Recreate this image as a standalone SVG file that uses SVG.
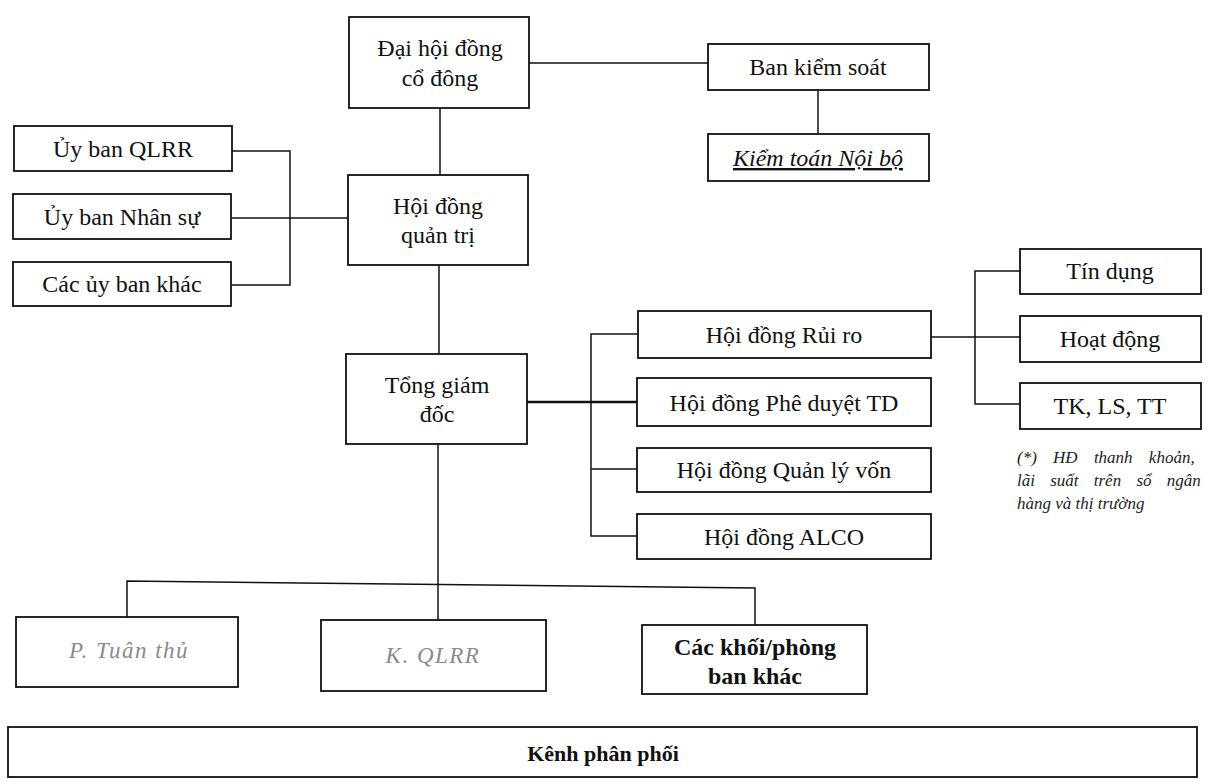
<svg xmlns="http://www.w3.org/2000/svg" width="1208" height="782" viewBox="0 0 1208 782">
<style>
.box{fill:#fff;stroke:#111;stroke-width:1.8}
.t{font-family:"Liberation Serif","Times New Roman",serif;font-size:24px;fill:#111;text-anchor:middle}
.b{font-weight:bold}
.g{font-style:italic;fill:#8a8a8a;font-size:23px;letter-spacing:1.5px}
.note{font-family:"Liberation Serif","Times New Roman",serif;font-size:17px;font-style:italic;fill:#222}
.c{fill:none;stroke:#111;stroke-width:1.5}
</style>
<rect width="1208" height="782" fill="#fff"/>
<g id="connectors">
<path class="c" d="M529 63H708"/>
<path class="c" d="M818 90V134"/>
<path class="c" d="M440 108V175"/>
<path class="c" d="M232 151H290V285H232M232 218H348"/>
<path class="c" d="M439 265V354"/>
<path class="c" d="M527 402H637" style="stroke-width:2.4"/>
<path class="c" d="M638 334H591V536H637M591 469H637"/>
<path class="c" d="M931 337H1020M1020 271H975V404H1020"/>
<path class="c" d="M438 444V620"/>
<path class="c" d="M127 617V581L755 588V625"/>
</g>
<g id="dhdcd"><rect class="box" x="349" y="17" width="180" height="91"/><text class="t" x="440" y="56">Đại hội đồng</text><text class="t" x="440" y="86">cổ đông</text></g>
<g id="bks"><rect class="box" x="708" y="44" width="221" height="46"/><text class="t" x="818" y="75">Ban kiểm soát</text></g>
<g id="ktnb"><rect class="box" x="708" y="134" width="221" height="47"/><text class="t" x="818" y="166" style="font-style:italic;text-decoration:underline">Kiểm toán Nội bộ</text></g>
<g id="ubqlrr"><rect class="box" x="14" y="126" width="218" height="45"/><text class="t" x="123" y="157">Ủy ban QLRR</text></g>
<g id="ubns"><rect class="box" x="13" y="194" width="218" height="45"/><text class="t" x="122" y="225">Ủy ban Nhân sự</text></g>
<g id="ubk"><rect class="box" x="13" y="262" width="218" height="44"/><text class="t" x="122" y="292">Các ủy ban khác</text></g>
<g id="hdqt"><rect class="box" x="348" y="175" width="180" height="90"/><text class="t" x="438" y="214">Hội đồng</text><text class="t" x="438" y="243">quản trị</text></g>
<g id="tgd"><rect class="box" x="346" y="354" width="181" height="90"/><text class="t" x="437" y="393">Tổng giám</text><text class="t" x="437" y="422">đốc</text></g>
<g id="hdrr"><rect class="box" x="638" y="311" width="293" height="47"/><text class="t" x="784" y="343">Hội đồng Rủi ro</text></g>
<g id="hdpd"><rect class="box" x="637" y="378" width="294" height="48"/><text class="t" x="784" y="411">Hội đồng Phê duyệt TD</text></g>
<g id="hdqlv"><rect class="box" x="637" y="448" width="294" height="44"/><text class="t" x="784" y="478">Hội đồng Quản lý vốn</text></g>
<g id="alco"><rect class="box" x="637" y="514" width="294" height="45"/><text class="t" x="784" y="545">Hội đồng ALCO</text></g>
<g id="td"><rect class="box" x="1020" y="249" width="181" height="45"/><text class="t" x="1110" y="279">Tín dụng</text></g>
<g id="hd"><rect class="box" x="1020" y="316" width="181" height="46"/><text class="t" x="1110" y="347">Hoạt động</text></g>
<g id="tk"><rect class="box" x="1020" y="383" width="181" height="46"/><text class="t" x="1110" y="414">TK, LS, TT</text></g>
<g id="note"><text class="note" x="1017" y="463" style="word-spacing:12px">(*) HĐ thanh khoản,</text><text class="note" x="1017" y="486" style="word-spacing:11px">lãi suất trên sổ ngân</text><text class="note" x="1017" y="509">hàng và thị trường</text></g>
<g id="ptt"><rect class="box" x="16" y="617" width="222" height="70"/><text class="t g" x="129" y="658">P. Tuân thủ</text></g>
<g id="kqlrr"><rect class="box" x="321" y="620" width="225" height="71"/><text class="t g" x="433" y="663">K. QLRR</text></g>
<g id="ckp"><rect class="box" x="642" y="625" width="225" height="69"/><text class="t b" x="755" y="655">Các khối/phòng</text><text class="t b" x="755" y="684">ban khác</text></g>
<g id="kpp"><rect class="box" x="8" y="727" width="1189" height="50"/><text class="t b" x="603" y="761" style="font-size:22px">Kênh phân phối</text></g>
</svg>
